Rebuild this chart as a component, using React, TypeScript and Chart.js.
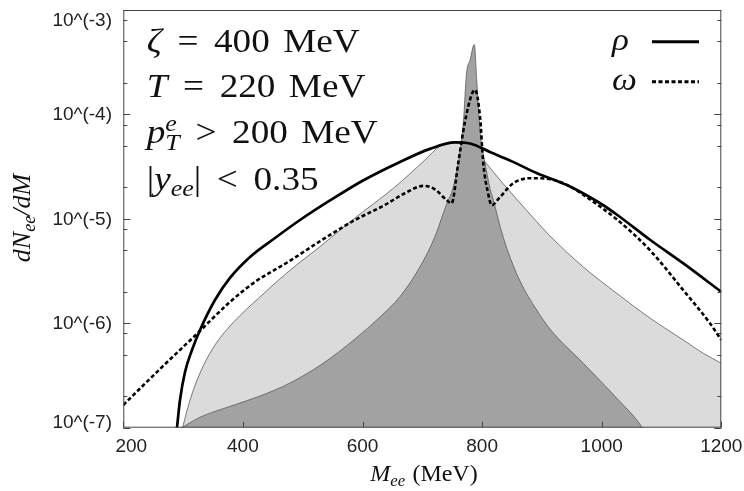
import React, { useEffect, useRef } from 'react';
import { Chart, registerables } from 'chart.js';
Chart.register(...registerables);

// ---------- data ----------
const xTickValues = [200, 400, 600, 800, 1000, 1200];
const xTickLabels = ['200', '400', '600', '800', '1000', '1200'];
const yDecades = [1e-7, 1e-6, 1e-5, 1e-4, 1e-3];
const yTickLabels = ['10^(-7)', '10^(-6)', '10^(-5)', '10^(-4)', '10^(-3)'];
const yMinorFactors = [2, 5, 8];

const rhoMass = [289, 294.8, 303.2, 314.9, 328.3, 353.3, 378.4, 411.9, 453.7, 495.5, 545.7, 600.9, 662.7, 712.9, 754.7, 779.8, 813, 850, 891, 947, 1000, 1025, 1080.7, 1136, 1200];
const rhoValues = [9e-8, 1.84e-7, 3.42e-7, 5.55e-7, 8.63e-7, 1.67e-6, 2.72e-6, 4.32e-6, 6.56e-6, 9.75e-6, 1.5e-5, 2.33e-5, 3.51e-5, 4.68e-5, 5.4e-5, 5.27e-5, 4.37e-5, 3.55e-5, 2.75e-5, 2.04e-5, 1.38e-5, 1.1e-5, 6.31e-6, 3.76e-6, 2.0e-6];

const omegaMass = [200, 261.4, 322.7, 378.4, 420.2, 475.4, 532.3, 587.5, 637.6, 671, 701.7, 721, 740.8, 749, 760, 771, 782.6, 788, 796.5, 802, 810, 816, 830, 852, 880, 908, 947, 969, 1025, 1080.7, 1136, 1181, 1200];
const omegaValues = [1.65e-7, 3.65e-7, 7.88e-7, 1.6e-6, 2.49e-6, 3.86e-6, 6.28e-6, 9.75e-6, 1.36e-5, 1.76e-5, 2.07e-5, 1.92e-5, 1.51e-5, 1.41e-5, 3.39e-5, 8.32e-5, 1.55e-4, 1.72e-4, 9.55e-5, 3.39e-5, 1.76e-5, 1.35e-5, 1.62e-5, 2.19e-5, 2.45e-5, 2.43e-5, 2.04e-5, 1.7e-5, 9.9e-6, 5.01e-6, 2.09e-6, 1.0e-6, 6.92e-7];

const broadMass = [297, 311.6, 328.3, 353.3, 383.4, 428.6, 475.4, 532.3, 587.5, 654.3, 704.5, 729.6, 749.7, 771.4, 779.8, 835.5, 858.4, 891.3, 913.5, 969.2, 1025, 1080.8, 1136.4, 1169.9, 1200];
const broadValues = [9e-8, 1.84e-7, 3.34e-7, 6.19e-7, 1.01e-6, 1.79e-6, 3.1e-6, 5.62e-6, 1.02e-5, 2.02e-5, 3.67e-5, 4.99e-5, 5.45e-5, 5.33e-5, 5.0e-5, 2.16e-5, 1.53e-5, 9.4e-6, 6.87e-6, 3.46e-6, 1.94e-6, 1.12e-6, 6.92e-7, 5.16e-7, 4.14e-7];

const narrowMass = [285, 328.3, 378.4, 428.6, 478.8, 532.3, 587.5, 629.3, 662.7, 696.2, 721.2, 735.1, 743.5, 749, 760, 768.6, 774, 779.8, 787, 791, 796.5, 805, 813.7, 818.7, 829.9, 841.1, 863.3, 891.3, 913.5, 969.2, 1025, 1066.9, 1072];
const narrowValues = [9e-8, 1.26e-7, 1.6e-7, 2.01e-7, 2.68e-7, 4.07e-7, 7.08e-7, 1.15e-6, 1.8e-6, 3.48e-6, 6.76e-6, 1.13e-5, 1.52e-5, 1.78e-5, 3.39e-5, 8.32e-5, 2.48e-4, 3.31e-4, 4.68e-4, 2.14e-4, 7.08e-5, 3.39e-5, 1.91e-5, 1.52e-5, 8.55e-6, 5.26e-6, 2.54e-6, 1.34e-6, 8.81e-7, 4.14e-7, 1.92e-7, 1.02e-7, 9e-8];

const pts = (xs: number[], ys: number[]) => xs.map((x, i) => ({ x, y: ys[i] }));

// ---------- rich text helpers ----------
type Seg = { t?: string; it?: boolean; sub?: string; sup?: string; g?: number };
const SERIF = '"Liberation Serif", "DejaVu Serif", serif';

function layoutRich(ctx: CanvasRenderingContext2D, segs: Seg[], size: number, draw: boolean) {
  let cx = 0;
  for (const s of segs) {
    if (s.g !== undefined) {
      cx += s.g * size;
    } else if (s.t) {
      ctx.font = `${s.it ? 'italic ' : ''}${size}px ${SERIF}`;
      if (draw) ctx.fillText(s.t, cx, 0);
      cx += ctx.measureText(s.t).width;
    } else {
      ctx.font = `italic ${size * 0.7}px ${SERIF}`;
      let w = 0;
      if (s.sup) {
        if (draw) ctx.fillText(s.sup, cx, -size * 0.36);
        w = Math.max(w, ctx.measureText(s.sup).width);
      }
      if (s.sub) {
        if (draw) ctx.fillText(s.sub, cx, size * 0.2);
        w = Math.max(w, ctx.measureText(s.sub).width);
      }
      cx += w;
    }
  }
  return cx;
}

function richWidth(ctx: CanvasRenderingContext2D, segs: Seg[], size: number) {
  ctx.save();
  const w = layoutRich(ctx, segs, size, false);
  ctx.restore();
  return w;
}

function drawRich(ctx: CanvasRenderingContext2D, segs: Seg[], x: number, y: number, size: number, sx = 1) {
  ctx.save();
  ctx.translate(x, y);
  ctx.scale(sx, 1);
  ctx.textBaseline = 'alphabetic';
  ctx.textAlign = 'left';
  layoutRich(ctx, segs, size, true);
  ctx.restore();
}

const annotationLines: Seg[][] = [
  [{ t: 'ζ', it: true }, { g: 0.42 }, { t: '=' }, { g: 0.42 }, { t: '400' }, { g: 0.36 }, { t: 'MeV' }],
  [{ t: 'T', it: true }, { g: 0.42 }, { t: '=' }, { g: 0.42 }, { t: '220' }, { g: 0.36 }, { t: 'MeV' }],
  [{ t: 'p', it: true }, { sup: 'e', sub: 'T' }, { g: 0.42 }, { t: '>' }, { g: 0.42 }, { t: '200' }, { g: 0.36 }, { t: 'MeV' }],
  [{ t: '|' }, { t: 'y', it: true }, { sub: 'ee' }, { t: '|' }, { g: 0.42 }, { t: '<' }, { g: 0.42 }, { t: '0.35' }],
];
const annotationBaselines = [51.7, 96.7, 143.3, 189.5];

const decor = {
  id: 'decor',
  afterDatasetsDraw(chart: any) {
    const { ctx, chartArea: a, scales } = chart;
    const xs = scales.x;
    const ys = scales.y;
    ctx.save();
    // frame
    ctx.strokeStyle = '#444';
    ctx.lineWidth = 1;
    ctx.strokeRect(a.left + 0.5, a.top + 0.5, a.right - a.left - 1, a.bottom - a.top - 1);

    // x ticks
    ctx.beginPath();
    for (const v of xTickValues) {
      const px = Math.round(xs.getPixelForValue(v)) + 0.5;
      ctx.moveTo(px, a.bottom);
      ctx.lineTo(px, a.bottom - 6);
    }
    // y ticks (left and right, inward)
    for (let d = 0; d < yDecades.length; d++) {
      const dec = yDecades[d];
      const py = Math.round(ys.getPixelForValue(dec)) + 0.5;
      ctx.moveTo(a.left, py); ctx.lineTo(a.left + 7, py);
      ctx.moveTo(a.right, py); ctx.lineTo(a.right - 7, py);
      if (d < yDecades.length - 1) {
        for (const f of yMinorFactors) {
          const my = Math.round(ys.getPixelForValue(dec * f)) + 0.5;
          ctx.moveTo(a.left, my); ctx.lineTo(a.left + 4, my);
          ctx.moveTo(a.right, my); ctx.lineTo(a.right - 4, my);
        }
      }
    }
    ctx.stroke();

    // tick labels
    ctx.fillStyle = '#222';
    ctx.font = '19px "Liberation Sans", Arial, sans-serif';
    ctx.textAlign = 'center';
    ctx.textBaseline = 'middle';
    xTickValues.forEach((v, i) => {
      const shift = i === 0 ? 8 : 0;
      ctx.fillText(xTickLabels[i], xs.getPixelForValue(v) + shift, 446.5);
    });
    ctx.textAlign = 'right';
    yDecades.forEach((v, i) => {
      const py = ys.getPixelForValue(v);
      const ly = Math.min(Math.max(py, a.top + 10.5), a.bottom - 5.5);
      ctx.fillText(yTickLabels[i], 112, ly + 0.5);
    });

    // axis titles
    ctx.fillStyle = '#111';
    const xTitle: Seg[] = [{ t: 'M', it: true }, { sub: 'ee' }, { g: 0.3 }, { t: '(MeV)' }];
    const xw = richWidth(ctx, xTitle, 24);
    drawRich(ctx, xTitle, 424 - xw / 2, 481, 24);
    const yTitle: Seg[] = [{ t: 'dN', it: true }, { sub: 'ee' }, { t: '/', it: true }, { t: 'dM', it: true }];
    const yw = richWidth(ctx, yTitle, 26);
    ctx.save();
    ctx.translate(30, 218);
    ctx.rotate(-Math.PI / 2);
    drawRich(ctx, yTitle, -yw / 2, 0, 26);
    ctx.restore();

    // annotation block
    ctx.fillStyle = '#111';
    const size = 34;
    const sx = 213 / richWidth(ctx, annotationLines[0], size);
    annotationLines.forEach((line, i) => drawRich(ctx, line, 146.7, annotationBaselines[i], size, sx));

    // legend
    const ds = chart.data.datasets;
    drawRich(ctx, [{ t: ds[0].label, it: true }], 612, 50, 32, 1.1);
    drawRich(ctx, [{ t: ds[1].label, it: true }], 612, 90, 32, 1.1);
    ctx.lineCap = 'butt';
    ctx.strokeStyle = ds[0].borderColor;
    ctx.lineWidth = 3;
    ctx.setLineDash([]);
    ctx.beginPath(); ctx.moveTo(652, 41.7); ctx.lineTo(699, 41.7); ctx.stroke();
    ctx.strokeStyle = ds[1].borderColor;
    ctx.setLineDash(ds[1].borderDash);
    ctx.beginPath(); ctx.moveTo(652, 81.7); ctx.lineTo(699, 81.7); ctx.stroke();
    ctx.setLineDash([]);
    ctx.restore();
  },
};

export default function App() {
  const ref = useRef<HTMLCanvasElement | null>(null);
  useEffect(() => {
    if (!ref.current) return;
    const chart = new Chart(ref.current, {
      type: 'line',
      data: {
        datasets: [
          {
            label: 'ρ',
            data: pts(rhoMass, rhoValues),
            borderColor: '#000',
            borderWidth: 2.7,
            fill: false,
            order: 0,
            cubicInterpolationMode: 'monotone',
            pointRadius: 0,
          },
          {
            label: 'ω',
            data: pts(omegaMass, omegaValues),
            borderColor: '#000',
            borderWidth: 2.6,
            borderDash: [4, 2.5],
            fill: false,
            order: 1,
            cubicInterpolationMode: 'monotone',
            pointRadius: 0,
          },
          {
            label: 'narrow',
            data: pts(narrowMass, narrowValues),
            borderColor: '#5a5a5a',
            borderWidth: 0.8,
            backgroundColor: '#a2a2a2',
            fill: 'start',
            order: 2,
            cubicInterpolationMode: 'monotone',
            pointRadius: 0,
          },
          {
            label: 'broad',
            data: pts(broadMass, broadValues),
            borderColor: '#5a5a5a',
            borderWidth: 0.8,
            backgroundColor: '#dbdbdb',
            fill: 'start',
            order: 3,
            cubicInterpolationMode: 'monotone',
            pointRadius: 0,
          },
        ],
      } as any,
      options: {
        animation: false,
        responsive: true,
        maintainAspectRatio: false,
        layout: { padding: { left: 123.3, right: 22.7, top: 10, bottom: 63.3 } },
        scales: {
          x: { type: 'linear', min: 200, max: 1200, display: false },
          y: { type: 'logarithmic', min: 1e-7, max: 1e-3, display: false },
        },
        plugins: { legend: { display: false }, tooltip: { enabled: false } },
      } as any,
      plugins: [decor],
    });
    return () => chart.destroy();
  }, []);
  return (
    <div style={{ position: 'fixed', left: 0, top: 0, width: 744, height: 491, background: '#fff' }}>
      <canvas ref={ref} />
    </div>
  );
}
